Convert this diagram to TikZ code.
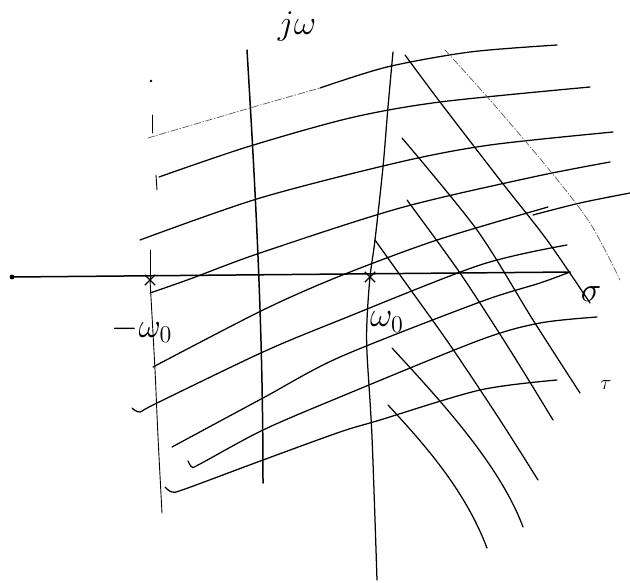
\documentclass[tikz,border=0pt]{standalone}
\usetikzlibrary{positioning, shapes.misc}

\tikzset{
  pen/.style={line width=1.25pt, line cap=round, line join=round},
  thinpen/.style={line width=0.9pt, line cap=round},
  faint/.style={line width=0.8pt, black!60, line cap=round, dash pattern=on 7pt off 2pt on 1pt off 2pt},
  polemark/.style={cross out, draw, line width=1.4pt, minimum size=9pt, inner sep=0pt},
  lbl/.style={font=\LARGE, scale=2, inner sep=1pt},
}

\begin{document}
\begin{tikzpicture}[x=1pt, y=-1pt]
  \useasboundingbox (0,0) rectangle (630,582);

  % real axis and j omega axis
  \coordinate (sleft) at (12,277);
  \coordinate (sright) at (570,272);
  \fill (sleft) circle (2.4pt);
  \draw[pen, line width=1.5pt] (sleft) -- (sright);
  \coordinate (jtop) at (247,50);
  \coordinate (jbot) at (263,483);
  \draw[pen, line width=1.5pt] (jtop) .. controls (256,200) and (263,330) .. (jbot);
  \node[lbl] (jw) at (297,27) {$j\omega$};

  % poles on the real axis
  \node[polemark] (pm) at (150,280) {};
  \node[polemark] (pp) at (370,277) {};
  \node[lbl] (pmlbl) at ([xshift=-8pt, yshift=-50pt]pm.center) {$-\omega_0$};
  \node[lbl] (pplbl) at ([xshift=17pt, yshift=-45pt]pp.center) {$\omega_0$};
  \node[lbl] (sig) at (591,294) {$\sigma$};
  \node[lbl, scale=0.6] (tau) at (606,385) {$\tau$};

  % boundary at -w0 (broken above the axis)
  \fill (151,81) circle (1.3pt);
  \draw[thinpen] (152,115) -- (152,133);
  \draw[thinpen] (156,175) -- (157,190);
  \draw[thinpen] (150,250) -- (pm.center);
  \draw[thinpen] plot[smooth] coordinates {(pm.center) (155,370) (158,437) (162,513)};

  % boundary at w0
  \draw[pen] plot[smooth] coordinates {(393,52) (388,107) (383,167) (375,240) (370,277)
    (367,320) (367,353) (372,437) (377,580)};

  % hatching, rising strokes
  \draw[faint] plot[smooth] coordinates {(148,138) (250,108) (320,88)};
  \draw[pen] plot[smooth] coordinates {(320,88) (387,67) (470,52) (557,45)};
  \draw[pen] plot[smooth] coordinates {(159,177) (247,147) (350,118) (440,102) (590,87)};
  \draw[pen] plot[smooth] coordinates {(140,240) (260,198) (400,162) (490,145) (613,132)};
  \draw[pen] plot[smooth] coordinates {(150,293) (190,279) (260,253) (400,208) (533,177) (610,162)};
  \draw[pen] plot[smooth] coordinates {(153,367) (263,310) (340,276) (437,240) (548,207)};
  \draw[pen] plot[smooth] coordinates {(533,215) (580,203) (630,193)};
  \draw[pen] plot[smooth] coordinates {(132,408) (140,412) (155,404) (263,352) (340,320) (480,265) (567,245)};
  \draw[pen] plot[smooth] coordinates {(172,447) (263,398) (340,357) (480,302) (540,283) (570,272)};
  \draw[pen] plot[smooth] coordinates {(188,461) (192,467) (200,464) (263,430) (340,397) (480,340) (540,323) (597,317)};
  \draw[pen] plot[smooth] coordinates {(165,487) (172,492) (185,489) (263,460) (340,432) (380,420) (480,390) (557,380)};

  % hatching, falling strokes
  \draw[pen] plot[smooth] coordinates {(405,55) (440,102) (500,180) (547,240) (590,303)};
  \draw[faint] plot[smooth] coordinates {(445,50) (490,100) (547,167) (590,223) (620,280)};
  \draw[pen] plot[smooth] coordinates {(402,138) (477,230) (533,320) (580,393)};
  \draw[pen] plot[smooth] coordinates {(407,200) (460,273) (510,350) (553,420)};
  \draw[pen] plot[smooth] coordinates {(375,240) (405,282) (450,345) (500,420) (538,480)};
  \draw[pen] (392,348) .. controls (440,400) and (500,465) .. (523,527);
  \draw[pen] (388,405) .. controls (425,445) and (465,490) .. (487,548);
\end{tikzpicture}
\end{document}
